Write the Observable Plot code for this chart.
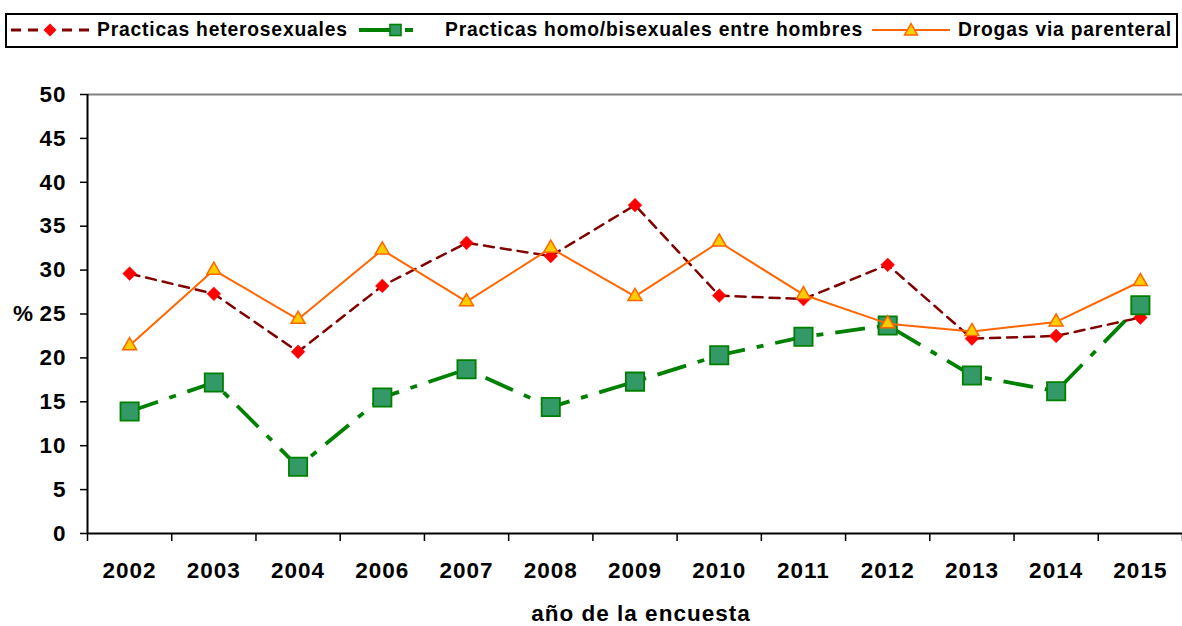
<!DOCTYPE html>
<html>
<head>
<meta charset="utf-8">
<script src="https://cdn.jsdelivr.net/npm/d3@7"></script>
<script src="https://cdn.jsdelivr.net/npm/@observablehq/plot@0.6"></script>
<style>
  html, body { margin: 0; padding: 0; background: #fff; }
  body { width: 1182px; height: 626px; position: relative; overflow: hidden; font-family: "Liberation Sans", Arial, sans-serif; }
  #chart { position: absolute; left: 0; top: 0; }
  #chart svg text { letter-spacing: 1px; }
  #legend { position: absolute; left: 5px; top: 13px; width: 1173px; height: 35px; box-sizing: border-box; border: 2.5px solid #000; background: #fff; }
  .item { position: absolute; top: 0; height: 30px; display: flex; align-items: center; font-weight: bold; font-size: 19.3px; letter-spacing: 0.8px; color: #000; white-space: nowrap; }
  .item svg { display: block; margin-right: 6px; }
</style>
</head>
<body>
<div id="chart"></div>
<div id="legend"></div>
<script>
// ---- data ----
const years = ["2002","2003","2004","2006","2007","2008","2009","2010","2011","2012","2013","2014","2015"];
const hetero = [29.6, 27.3, 20.7, 28.2, 33.1, 31.6, 37.4, 27.1, 26.7, 30.6, 22.2, 22.5, 24.6];
const homo   = [13.9, 17.2, 7.6, 15.5, 18.7, 14.4, 17.3, 20.3, 22.4, 23.7, 18.0, 16.2, 26.0];
const drogas = [21.4, 30.0, 24.4, 32.3, 26.4, 32.5, 27.0, 33.2, 27.2, 23.9, 23.0, 24.1, 28.7];
const seriesNames = ["Practicas heterosexuales", "Practicas homo/bisexuales entre hombres", "Drogas via parenteral"];
const yTicks = [0, 5, 10, 15, 20, 25, 30, 35, 40, 45, 50];
const yLabel = "%";
const xLabel = "año de la encuesta";

const idx = d3.range(years.length);
const rows = vals => idx.map(i => ({i, year: years[i], v: vals[i]}));
const bounds = d3.range(-0.5, years.length, 1);

const chart = Plot.plot({
  width: 1182,
  height: 626,
  marginTop: 94,
  marginBottom: 93,
  marginLeft: 87,
  marginRight: 0,
  x: {type: "linear", domain: [-0.5, years.length - 0.5]},
  y: {domain: [0, 50]},
  style: {fontFamily: "'Liberation Sans', Arial, sans-serif", fontWeight: "bold", fontSize: "22px", color: "#000", background: "#fff", overflow: "visible"},
  marks: [
    Plot.ruleY([50], {stroke: "#808080", strokeWidth: 2}),
    Plot.axisY({ticks: yTicks, tickSize: 7, tickPadding: 14, tickFormat: d => String(d), label: null, fontSize: 22.5, stroke: "#000", strokeWidth: 1.5, strokeOpacity: 1}),
    Plot.axisX({ticks: bounds, tickSize: 8, tickFormat: () => "", label: null, stroke: "#000", strokeWidth: 1.5, strokeOpacity: 1}),
    Plot.axisX({ticks: idx, tickSize: 0, tickPadding: 29, tickFormat: i => years[i], label: null, fontSize: 22.5}),
    Plot.ruleX([-0.5], {stroke: "#000", strokeWidth: 2}),
    Plot.ruleY([0], {stroke: "#000", strokeWidth: 2}),
    // heterosexual
    Plot.line(rows(hetero), {x: "i", y: "v", stroke: "#800000", strokeWidth: 2.5, strokeDasharray: "10,7"}),
    Plot.dot(rows(hetero), {x: "i", y: "v", symbol: "diamond2", r: 6.2, fill: "#FF0000", stroke: "#FF0000", strokeWidth: 0.5}),
    // homo/bisexual
    Plot.line(rows(homo), {x: "i", y: "v", stroke: "#008000", strokeWidth: 3.8, strokeDasharray: "30,12,7,12", strokeLinecap: "butt"}),
    Plot.dot(rows(homo), {x: "i", y: "v", symbol: "square", r: 10.3, fill: "#339966", stroke: "#008000", strokeWidth: 1.8}),
    // drogas
    Plot.line(rows(drogas), {x: "i", y: "v", stroke: "#FF6600", strokeWidth: 2}),
    Plot.dot(rows(drogas), {x: "i", y: "v", symbol: "triangle", r: 5.2, fill: "#FFCC00", stroke: "#FF6600", strokeWidth: 1.5}),
    Plot.text([yLabel], {frameAnchor: "left", textAnchor: "middle", lineAnchor: "middle", dx: -64, fontSize: 22.5, fontWeight: "bold"}),
    Plot.text([xLabel], {frameAnchor: "bottom", textAnchor: "middle", lineAnchor: "middle", dy: 80, dx: 6, fontSize: 22.5, fontWeight: "bold"})
  ]
});
document.getElementById("chart").appendChild(chart);

// ---- legend ----
const legend = document.getElementById("legend");
const items = [
  {name: seriesNames[0], left: 2, kind: "diamond"},
  {name: seriesNames[1], left: 350, kind: "square"},
  {name: seriesNames[2], left: 863, kind: "triangle"}
];
const lineStyles = {
  diamond: `<line x1="2" y1="15" x2="80" y2="15" stroke="#800000" stroke-width="3" stroke-dasharray="10,7"/>
            <path d="M41,8.5 L47.5,15 L41,21.5 L34.5,15 Z" fill="#FF0000"/>`,
  square: `<line x1="2" y1="15" x2="80" y2="15" stroke="#008000" stroke-width="4" stroke-dasharray="36,10,8,30"/>
           <rect x="33" y="9.5" width="11" height="11" fill="#339966" stroke="#008000" stroke-width="1.6"/>`,
  triangle: `<line x1="2" y1="15" x2="80" y2="15" stroke="#FF6600" stroke-width="2"/>
             <path d="M41,8.5 L47.5,20 L34.5,20 Z" fill="#FFCC00" stroke="#FF6600" stroke-width="1.5"/>`
};
for (const it of items) {
  const d = document.createElement("div");
  d.className = "item";
  d.style.left = it.left + "px";
  d.innerHTML = `<svg width="82" height="30">${lineStyles[it.kind]}</svg><span>${it.name}</span>`;
  legend.appendChild(d);
}
</script>
</body>
</html>
